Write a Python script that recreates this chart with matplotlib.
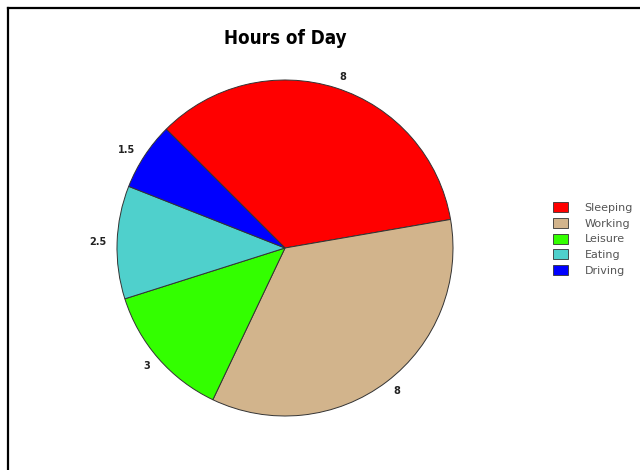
import matplotlib.pyplot as plt
from matplotlib.patches import Patch
from matplotlib.lines import Line2D

activities = ["Sleeping", "Working", "Leisure", "Eating", "Driving"]
hours = [8, 8, 3, 2.5, 1.5]
colors = ["#FF0000", "#D2B48C", "#33FF00", "#4FD0CC", "#0000FF"]
value_labels = [f"{h:g}" for h in hours]

fig = plt.figure(figsize=(6.4, 4.7), dpi=100)
fig.patch.set_facecolor("white")

W, H = 640, 470
cx, cy, r = 285, 248, 169
half = 210
ax = fig.add_axes([(cx - half) / W, (H - cy - half) / H, 2 * half / W, 2 * half / H])
lim = half / r
ax.set_xlim(-lim, lim)
ax.set_ylim(-lim, lim)
ax.set_aspect("equal")
ax.axis("off")

wedges, texts = ax.pie(
    hours, labels=value_labels, colors=colors, startangle=135,
    counterclock=False, labeldistance=1.065,
    wedgeprops=dict(edgecolor="#333333", linewidth=0.7),
    textprops=dict(fontsize=7, fontweight="bold", color="#222222"),
)

fig.text(cx / W, 1 - 38 / H, "Hours of Day", ha="center", va="center",
         fontsize=13.5, fontweight="bold", fontstretch="condensed",
         family=["DejaVu Sans"])

handles = [Patch(facecolor=c, edgecolor="#333333", linewidth=0.6) for c in colors]
fig.legend(handles, activities, loc="center left", bbox_to_anchor=(553 / W, 1 - 239 / H),
           frameon=False, fontsize=8, handlelength=1.35, handleheight=1.0,
           handletextpad=1.5, labelspacing=0.45, borderpad=0, borderaxespad=0,
           labelcolor="#555555")

# frame lines along the top and left edges
fig.add_artist(Line2D([8 / W, 8 / W], [0, 1 - 8 / H], transform=fig.transFigure,
                      color="black", linewidth=1.6))
fig.add_artist(Line2D([8 / W, 1], [1 - 8 / H, 1 - 8 / H], transform=fig.transFigure,
                      color="black", linewidth=1.6))

fig.savefig("out.png", dpi=100)
